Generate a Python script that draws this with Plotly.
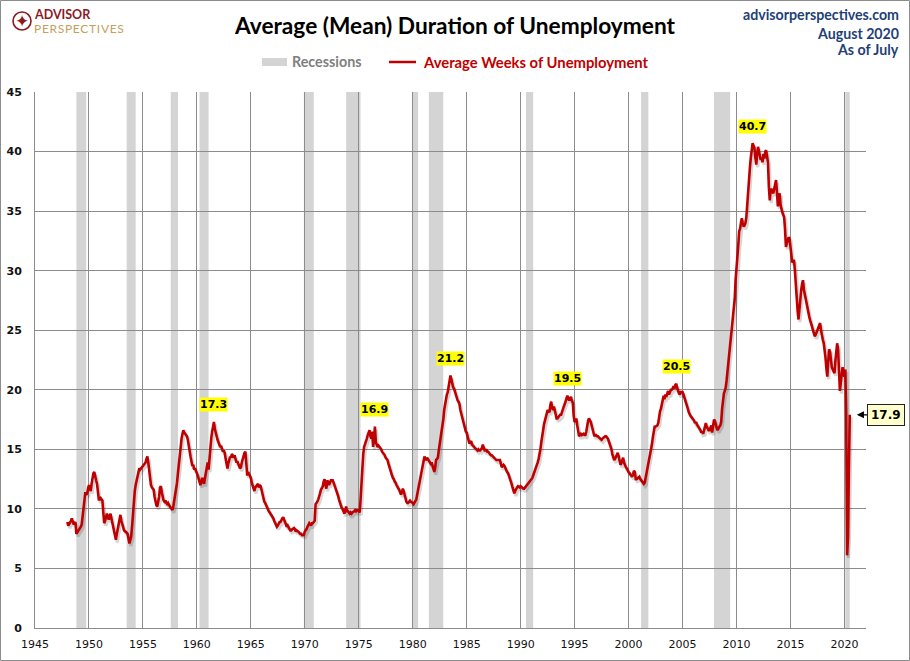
import plotly.graph_objects as go
import pandas as pd

# ---------------- data (monthly average weeks of unemployment) ----------------
start_month = "1948-01-01"

weeks_1948_1949 = [
    8.9, 8.6, 8.7, 8.8, 9.0, 9.2, 8.9, 8.7, 8.8, 8.9, 7.9, 8.0,        # 1948
    8.1, 8.2, 8.3, 8.5, 8.7, 9.3, 9.9, 10.6, 11.4, 11.2, 11.3, 11.7,   # 1949
]
weeks_1950s = [
    12.0, 11.7, 11.5, 12.1, 12.6, 13.0, 13.1, 12.6, 12.4, 12.1, 11.3, 10.8,
    10.8, 10.9, 10.8, 10.7, 9.7, 8.8, 9.0, 9.3, 9.6, 9.4, 9.1, 9.4,
    9.6, 9.2, 8.8, 8.5, 8.2, 7.7, 7.4, 7.9, 8.3, 8.8, 9.1, 9.5,
    9.0, 8.8, 8.5, 8.2, 8.1, 8.0, 8.0, 7.9, 7.5, 7.1, 7.4, 7.7,
    8.6, 9.8, 10.9, 11.5, 12.0, 12.4, 12.8, 13.2, 13.4, 13.3, 13.4, 13.5,
    13.6, 13.7, 13.8, 13.9, 14.2, 14.4, 13.9, 13.2, 12.3, 12.0, 11.8, 11.7,
    11.6, 11.0, 10.5, 10.3, 10.2, 10.5, 11.0, 11.8, 11.9, 11.4, 11.0, 10.7,
    10.6, 10.7, 10.5, 10.4, 10.5, 10.3, 10.2, 10.1, 10.0, 9.9, 10.3, 10.8,
    11.0, 11.6, 12.2, 13.0, 13.9, 14.8, 15.5, 15.9, 16.3, 16.6, 16.4, 16.3,
    16.3, 16.1, 15.8, 15.2, 14.8, 14.4, 14.0, 13.6, 13.7, 13.3, 13.4, 13.1,
]
weeks_1960s = [
    13.0, 12.8, 12.5, 12.2, 12.0, 12.3, 12.6, 12.3, 12.1, 12.6, 13.1, 13.7,
    13.9, 13.3, 14.2, 15.4, 15.9, 16.5, 16.9, 17.3, 16.7, 16.3, 15.9, 15.8,
    15.6, 15.4, 15.2, 15.3, 15.0, 14.8, 14.9, 14.7, 14.2, 13.8, 13.4, 13.8,
    14.1, 14.4, 14.3, 14.6, 14.5, 14.3, 14.5, 14.2, 13.9, 14.0, 13.7, 13.6,
    13.4, 13.5, 13.9, 14.2, 14.4, 14.7, 14.8, 14.0, 12.8, 13.1, 12.9, 12.7,
    12.6, 12.2, 11.9, 11.6, 11.5, 11.8, 11.9, 11.9, 12.1, 11.8, 12.0, 11.9,
    11.6, 11.2, 10.8, 10.6, 10.5, 10.3, 10.2, 10.0, 9.8, 9.7, 9.6, 9.4,
    9.3, 9.2, 9.0, 8.8, 8.6, 8.5, 8.6, 8.8, 8.9, 8.9, 9.1, 9.2,
    9.3, 9.1, 8.8, 8.6, 8.5, 8.6, 8.4, 8.3, 8.2, 8.2, 8.3, 8.4,
    8.4, 8.3, 8.1, 8.2, 8.1, 8.0, 8.0, 7.9, 7.9, 7.8, 7.8, 7.8,
]
weeks_1970s = [
    8.1, 8.2, 8.3, 8.5, 8.6, 8.8, 8.7, 8.6, 8.8, 8.8, 8.9, 9.0,
    10.4, 10.5, 10.6, 10.8, 11.0, 11.3, 11.6, 11.7, 11.9, 12.3, 12.5, 12.0,
    11.7, 12.4, 12.2, 12.0, 12.2, 12.4, 12.4, 12.4, 12.2, 12.0, 11.8, 11.5,
    11.3, 11.1, 10.8, 10.5, 10.2, 10.1, 10.0, 9.8, 9.6, 9.9, 10.2, 9.8,
    9.8, 9.7, 9.6, 9.7, 9.6, 9.7, 9.8, 9.8, 9.9, 9.8, 9.9, 9.9,
    9.8, 9.7, 10.7, 12.3, 13.9, 14.6, 15.2, 15.4, 15.6, 15.9, 16.2, 16.4,
    16.6, 16.1, 15.9, 16.5, 15.2, 15.8, 16.9, 15.6, 15.4, 15.2, 15.3, 15.2,
    15.2, 15.0, 14.8, 14.7, 14.6, 14.5, 14.3, 14.2, 14.1, 13.8, 13.5, 13.2,
    13.0, 12.8, 12.6, 12.5, 12.3, 12.2, 12.0, 11.9, 11.7, 11.6, 11.4, 11.2,
    11.4, 11.7, 11.5, 11.1, 10.8, 10.6, 10.5, 10.5, 10.6, 10.7, 10.6, 10.5,
]
weeks_1980s = [
    10.5, 10.4, 10.5, 10.6, 10.8, 11.2, 11.6, 12.0, 12.4, 13.0, 13.2, 13.6,
    14.0, 14.4, 14.2, 14.1, 14.3, 14.2, 14.0, 14.0, 13.8, 13.9, 13.6, 13.4,
    13.1, 13.5, 14.1, 14.2, 14.3, 14.9, 15.4, 15.8, 16.3, 16.8, 17.5, 18.3,
    18.9, 19.4, 19.6, 19.8, 20.3, 20.6, 21.2, 20.9, 20.4, 20.2, 20.1, 19.8,
    19.7, 19.4, 19.1, 19.0, 18.8, 18.3, 18.0, 17.7, 17.4, 17.0, 16.8, 16.5,
    16.4, 16.1, 15.8, 15.5, 15.6, 15.7, 15.4, 15.3, 15.2, 15.1, 15.0, 15.0,
    14.9, 15.0, 14.9, 14.9, 15.0, 15.1, 15.4, 15.2, 14.9, 14.9, 15.0, 14.8,
    14.8, 14.7, 14.6, 14.5, 14.5, 14.4, 14.3, 14.2, 14.2, 14.1, 14.1, 14.1,
    14.1, 14.1, 13.8, 13.5, 13.6, 13.7, 13.6, 13.4, 13.2, 13.1, 13.0, 12.8,
    12.6, 12.4, 12.1, 11.8, 11.5, 11.3, 11.5, 11.7, 11.8, 11.9, 11.8, 11.8,
]
weeks_1990s = [
    11.9, 11.8, 11.8, 11.7, 11.7, 11.8, 11.9, 12.0, 12.1, 12.2, 12.3, 12.4,
    12.4, 12.6, 12.8, 13.0, 13.3, 13.5, 13.7, 13.9, 14.2, 14.5, 15.0, 15.6,
    16.4, 16.6, 17.1, 17.5, 17.7, 18.0, 18.3, 18.2, 18.1, 18.7, 19.0, 18.5,
    18.3, 18.6, 18.2, 17.7, 17.6, 17.6, 17.7, 17.8, 17.9, 17.9, 18.2, 18.4,
    18.6, 18.8, 19.1, 19.3, 19.5, 19.3, 19.1, 19.3, 19.4, 19.1, 18.9, 17.8,
    17.3, 17.4, 17.6, 17.0, 16.5, 16.1, 16.2, 16.3, 16.2, 16.3, 16.3, 16.2,
    16.2, 16.5, 17.0, 17.4, 17.6, 17.5, 17.3, 17.0, 16.6, 16.3, 16.1, 16.2,
    16.2, 16.1, 16.1, 16.0, 15.9, 15.8, 15.8, 15.9, 16.0, 16.0, 16.1, 16.1,
    16.0, 15.9, 15.7, 15.5, 15.3, 15.0, 14.6, 14.4, 14.1, 14.2, 14.4, 14.6,
    14.7, 14.4, 14.0, 13.7, 13.8, 14.2, 14.3, 13.9, 13.6, 13.5, 13.4, 13.2,
]
weeks_2000s = [
    13.1, 13.0, 12.9, 12.8, 12.7, 12.9, 13.2, 13.1, 12.5, 12.5, 12.6, 12.6,
    12.7, 12.5, 12.4, 12.3, 12.2, 12.1, 12.2, 12.6, 13.2, 13.6, 14.0, 14.3,
    14.6, 14.9, 15.4, 16.0, 16.6, 16.9, 16.9, 17.0, 17.0, 17.2, 17.8, 18.2,
    18.4, 18.9, 19.3, 19.5, 19.2, 19.6, 19.4, 19.7, 19.9, 19.6, 19.8, 20.0,
    20.0, 20.1, 20.3, 20.1, 20.4, 20.5, 20.2, 19.9, 19.7, 19.6, 19.8, 19.8,
    19.8, 19.6, 19.4, 19.0, 18.8, 18.6, 18.4, 18.1, 17.9, 17.8, 17.7, 17.6,
    17.5, 17.4, 17.2, 17.3, 17.1, 17.0, 16.8, 16.7, 16.6, 16.4, 16.5, 16.3,
    16.7, 17.0, 17.2, 16.9, 16.7, 16.6, 16.6, 16.9, 17.0, 16.4, 17.1, 17.5,
    17.4, 17.0, 16.8, 16.6, 16.8, 16.9, 17.0, 17.3, 18.4, 19.3, 19.7, 19.9,
    20.2, 20.8, 21.6, 22.2, 23.0, 24.0, 24.6, 25.3, 26.1, 26.7, 27.6, 29.2,
]
weeks_2010s = [
    30.0, 30.8, 32.1, 33.3, 33.5, 34.0, 34.4, 34.0, 33.7, 33.8, 34.0, 34.5,
    35.8, 37.1, 38.0, 38.7, 39.5, 40.1, 40.7, 40.5, 40.3, 39.5, 38.9, 39.8,
    40.4, 40.0, 39.6, 39.3, 39.5, 39.1, 39.8, 39.4, 40.0, 40.1, 39.6, 39.1,
    37.0, 35.9, 36.8, 36.8, 36.6, 36.5, 36.9, 37.3, 37.6, 36.6, 35.4, 36.2,
    36.5, 35.5, 35.0, 34.9, 34.7, 34.5, 33.5, 32.0, 32.3, 32.6, 32.8, 32.7,
    31.8, 30.9, 30.7, 30.8, 30.9, 30.0, 28.6, 27.6, 26.6, 25.9, 26.9, 27.8,
    28.4, 28.9, 29.2, 28.4, 28.0, 27.4, 27.0, 26.7, 26.4, 26.1, 25.8, 25.6,
    25.3, 25.0, 24.7, 24.5, 24.6, 24.8, 25.0, 25.2, 25.4, 25.6, 25.0, 24.5,
    24.2, 23.9, 23.5, 22.7, 21.8, 21.1, 22.3, 23.4, 23.2, 22.2, 21.9, 21.7,
    21.6, 21.4, 22.4, 23.2, 23.9, 23.4, 20.8, 19.9, 20.6, 21.3, 21.9, 21.5,
]
weeks_2020 = [21.1, 21.7, 18.0, 6.1, 7.6, 13.4, 17.9]

recession_starts = ["1948-11-01", "1953-07-01", "1957-08-01", "1960-04-01", "1969-12-01",
                    "1973-11-01", "1980-01-01", "1981-07-01", "1990-07-01", "2001-03-01",
                    "2007-12-01", "2020-02-01"]
recession_ends = ["1949-10-01", "1954-05-01", "1958-04-01", "1961-02-01", "1970-11-01",
                  "1975-03-01", "1980-07-01", "1982-11-01", "1991-03-01", "2001-11-01",
                  "2009-06-01", "2020-06-30"]

peak_dates = ["1961-08-01", "1976-07-01", "1983-07-01", "1994-05-01", "2004-06-01", "2011-07-01"]
peak_labels = ["17.3", "16.9", "21.2", "19.5", "20.5", "40.7"]

y_ticks = [0, 5, 10, 15, 20, 25, 30, 35, 40, 45]

# ---------------- build ----------------
weeks = (weeks_1948_1949 + weeks_1950s + weeks_1960s + weeks_1970s +
         weeks_1980s + weeks_1990s + weeks_2000s + weeks_2010s + weeks_2020)
dates = pd.date_range(start_month, periods=len(weeks), freq="MS")
series = pd.Series(weeks, index=dates)

W, H = 910, 661
ML, MR, MT, MB = 35, 44, 92, 33
PW, PH = W - ML - MR, H - MT - MB


def px(xp):
    return (xp - ML) / PW


def py(yp):
    return (H - MB - yp) / PH


RED = "#C00000"
fig = go.Figure()

# soft drop shadow under the line
fig.add_trace(go.Scatter(
    x=dates + pd.Timedelta(days=50), y=[v - 0.22 for v in weeks],
    mode="lines", line=dict(color="rgba(0,0,0,0.16)", width=3.2),
    hoverinfo="skip", showlegend=False))

fig.add_trace(go.Scatter(
    x=dates, y=weeks, mode="lines", name="Average Weeks of Unemployment",
    line=dict(color=RED, width=2.6), showlegend=False))

shapes = []
for s, e in zip(recession_starts, recession_ends):
    shapes.append(dict(type="rect", xref="x", yref="y", x0=s, x1=e, y0=0, y1=45,
                       fillcolor="#D4D4D4", line=dict(width=0), layer="below"))

# outer frame
shapes.append(dict(type="rect", xref="paper", yref="paper",
                   x0=px(0.5), x1=px(W - 0.5), y0=py(H - 0.5), y1=py(0.5),
                   line=dict(color="#8C8C8C", width=1), fillcolor="rgba(0,0,0,0)"))

# legend samples
shapes.append(dict(type="rect", xref="paper", yref="paper",
                   x0=px(262), x1=px(287), y0=py(66), y1=py(58),
                   fillcolor="#D4D4D4", line=dict(width=0)))
shapes.append(dict(type="line", xref="paper", yref="paper",
                   x0=px(389), x1=px(416), y0=py(62), y1=py(62),
                   line=dict(color=RED, width=2.5)))

# logo circle
shapes.append(dict(type="circle", xref="paper", yref="paper",
                   x0=px(13), x1=px(31), y0=py(30), y1=py(12),
                   line=dict(color="#8B1A1F", width=1.6)))

annotations = []
# title
annotations.append(dict(xref="paper", yref="paper", x=px(455), y=py(25),
                        text="<b>Average (Mean) Duration of Unemployment</b>",
                        showarrow=False, xanchor="center", yanchor="middle",
                        font=dict(family="Lato", size=22.7, color="#000000")))
# top right
for txt, yy in [("advisorperspectives.com", 15), ("August 2020", 33), ("As of July", 50)]:
    annotations.append(dict(xref="paper", yref="paper", x=px(901), y=py(yy),
                            text="<b>" + txt + "</b>", showarrow=False,
                            xanchor="right", yanchor="middle",
                            font=dict(family="Lato", size=14.2, color="#1F3F77")))
# logo text (two separate texts, stacked)
annotations.append(dict(xref="paper", yref="paper", x=px(33), y=py(15),
                        text="<b>ADVISOR</b>", showarrow=False, xanchor="left", yanchor="middle",
                        font=dict(family="Lato", size=12.5, color="#8B1A1F"), borderpad=0,
                        ))
annotations.append(dict(xref="paper", yref="paper", x=px(33), y=py(29),
                        text="<span style='letter-spacing:0.7px'>PERSPECTIVES</span>",
                        showarrow=False, xanchor="left", yanchor="middle", borderpad=0,
                        font=dict(family="Lato", size=12, color="#C4A05A")))
annotations.append(dict(xref="paper", yref="paper", x=px(22), y=py(21),
                        text="✦", showarrow=False, xanchor="center", yanchor="middle",
                        font=dict(family="DejaVu Sans", size=17, color="#8B1A1F")))
# legend text
annotations.append(dict(xref="paper", yref="paper", x=px(290), y=py(62),
                        text="<b>Recessions</b>", showarrow=False, xanchor="left", yanchor="middle",
                        font=dict(family="Lato", size=14.3, color="#7F7F7F")))
annotations.append(dict(xref="paper", yref="paper", x=px(421), y=py(62),
                        text="<b>Average Weeks of Unemployment</b>", showarrow=False,
                        xanchor="left", yanchor="middle",
                        font=dict(family="Lato", size=14.8, color=RED)))

# peak labels
for d, lab in zip(peak_dates, peak_labels):
    annotations.append(dict(x=d, y=float(series[d]), xref="x", yref="y",
                            text="<b>" + lab + "</b>", showarrow=False, yshift=17,
                            xanchor="center", yanchor="middle",
                            bgcolor="#FFFF00", borderpad=0,
                            font=dict(family="DejaVu Sans", size=11, color="#000000")))

# last value callout
annotations.append(dict(x=dates[-1], y=weeks[-1], xref="x", yref="y",
                        text="<b>%.1f</b>" % weeks[-1], showarrow=True,
                        ax=36, ay=0, arrowhead=2, arrowsize=1.1, arrowwidth=1.3,
                        arrowcolor="#000000", standoff=7,
                        bgcolor="#FFFFCC", bordercolor="#222222", borderwidth=1, borderpad=3,
                        font=dict(family="DejaVu Sans", size=12, color="#000000")))

fig.update_layout(
    width=W, height=H,
    margin=dict(l=ML, r=MR, t=MT, b=MB, pad=0, autoexpand=False),
    paper_bgcolor="white", plot_bgcolor="white",
    showlegend=False,
    shapes=shapes, annotations=annotations,
    xaxis=dict(type="date", range=["1945-01-01", "2022-01-01"], automargin=False,
               tick0="1945-01-01", dtick="M60", tickformat="%Y",
               showgrid=True, gridcolor="#8C8C8C", gridwidth=1,
               showline=True, linecolor="#8C8C8C", linewidth=1,
               ticks="", ticklabelstandoff=6, zeroline=False,
               tickfont=dict(family="DejaVu Sans", size=11, color="#111111")),
    yaxis=dict(range=[0, 45], tickvals=y_ticks, automargin=False,
               showgrid=True, gridcolor="#8C8C8C", gridwidth=1,
               showline=True, linecolor="#8C8C8C", linewidth=1,
               ticks="", ticklabelstandoff=10, zeroline=False,
               tickfont=dict(family="DejaVu Sans", size=11, color="#111111", weight="bold")),
)

fig.write_html("out.html")
